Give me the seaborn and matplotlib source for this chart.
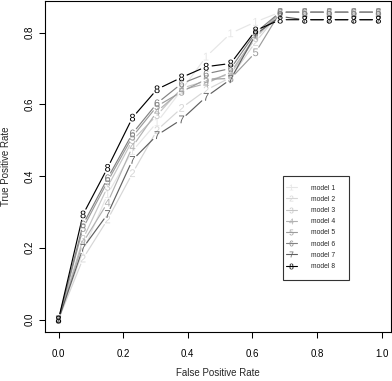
import numpy as np
import pandas as pd
import matplotlib
matplotlib.use("Agg")
import matplotlib.pyplot as plt
from matplotlib.lines import Line2D
from matplotlib.patches import Rectangle
import seaborn as sns

# false positive rate grid (shared by all models)
fpr = [0.0, 0.076, 0.152, 0.229, 0.305, 0.381, 0.457, 0.533, 0.61, 0.686, 0.762, 0.838, 0.914, 0.99]

# true positive rate for each model
tpr_m1 = [0.0, 0.19, 0.35, 0.47, 0.55, 0.64, 0.733, 0.798, 0.83, 0.857, 0.857, 0.857, 0.857, 0.857]
tpr_m2 = [0.0, 0.17, 0.279, 0.408, 0.528, 0.59, 0.64, 0.675, 0.774, 0.857, 0.857, 0.857, 0.857, 0.857]
tpr_m3 = [0.0, 0.225, 0.37, 0.50, 0.57, 0.645, 0.665, 0.685, 0.785, 0.857, 0.857, 0.857, 0.857, 0.857]
tpr_m4 = [0.0, 0.215, 0.326, 0.482, 0.58, 0.64, 0.658, 0.69, 0.79, 0.857, 0.857, 0.857, 0.857, 0.857]
tpr_m5 = [0.0, 0.255, 0.385, 0.51, 0.595, 0.635, 0.67, 0.672, 0.745, 0.857, 0.857, 0.857, 0.857, 0.857]
tpr_m6 = [0.0, 0.265, 0.394, 0.519, 0.603, 0.658, 0.685, 0.70, 0.80, 0.857, 0.857, 0.857, 0.857, 0.857]
tpr_m7 = [0.0, 0.20, 0.294, 0.445, 0.514, 0.558, 0.621, 0.67, 0.795, 0.845, 0.836, 0.836, 0.836, 0.836]
tpr_m8 = [0.0, 0.293, 0.423, 0.563, 0.642, 0.675, 0.705, 0.714, 0.806, 0.836, 0.836, 0.836, 0.836, 0.836]

models = ["model 1", "model 2", "model 3", "model 4", "model 5", "model 6", "model 7", "model 8"]
tprs = [tpr_m1, tpr_m2, tpr_m3, tpr_m4, tpr_m5, tpr_m6, tpr_m7, tpr_m8]
grays = ["#e6e6e6", "#d6d6d6", "#c5c5c5", "#b2b2b2", "#9c9c9c", "#828282", "#5f5f5f", "#000000"]

rows = []
for name, vals in zip(models, tprs):
    for x, y in zip(fpr, vals):
        rows.append([x, y, name])
df = pd.DataFrame(rows, columns=["fpr", "tpr", "model"])

sns.set_style("ticks")
plt.rcParams["font.family"] = ["Liberation Sans", "DejaVu Sans"]
plt.rcParams["mathtext.fontset"] = "custom"
plt.rcParams["mathtext.rm"] = "Liberation Sans"
plt.rcParams["mathtext.it"] = "Liberation Sans:italic"
plt.rcParams["axes.edgecolor"] = "black"
plt.rcParams["axes.linewidth"] = 0.8

fig = plt.figure(figsize=(3.92, 3.81), dpi=100)
ax = fig.add_axes([45 / 392, (381 - 331.7) / 381, 346 / 392, 331.0 / 381])
ax.set_xlim(-0.0418, 1.029)
ax.set_ylim(-0.034, 0.889)

# lines with small gaps around each point (like R type="b")
gap = 6.0
trans = ax.transData
for name, col in zip(models, grays):
    sub = df[df["model"] == name]
    pts = trans.transform(sub[["fpr", "tpr"]].values)
    segs = []
    for p0, p1 in zip(pts[:-1], pts[1:]):
        d = p1 - p0
        L = np.hypot(d[0], d[1])
        if L <= 2 * gap:
            continue
        u = d / L
        segs += [p0 + u * gap, p1 - u * gap, [np.nan, np.nan]]
    segs = trans.inverted().transform(np.array(segs))
    ax.plot(segs[:, 0], segs[:, 1], color=col, lw=0.85, zorder=2)

# digit labels as point markers
markers = {m: "$" + str(i + 1) + "$" for i, m in enumerate(models)}
sns.scatterplot(data=df, x="fpr", y="tpr", hue="model", style="model",
                markers=markers, palette=dict(zip(models, grays)), s=31,
                linewidth=0, edgecolor="none", legend=False, ax=ax, zorder=3)

ax.set_xticks([0.0, 0.2, 0.4, 0.6, 0.8, 1.0])
ax.set_yticks([0.0, 0.2, 0.4, 0.6, 0.8])
ax.tick_params(axis="both", direction="out", length=4.5, width=0.75,
               color="black", labelsize=7, labelcolor="black")
ax.tick_params(axis="x", pad=8)
ax.tick_params(axis="y", pad=2.7, labelrotation=90)
for t in ax.get_yticklabels():
    t.set_va("center")

ax.set_xlabel("False Positive Rate", fontsize=7)
ax.set_ylabel("True Positive Rate", fontsize=7)
ax.xaxis.set_label_coords(0.5, -(373.3 - 331.7) / 331.0)
ax.xaxis.label.set_va("center")
ax.yaxis.set_label_coords((6.5 - 45) / 346, 0.5)
ax.yaxis.label.set_va("center")

for sp in ax.spines.values():
    sp.set_visible(True)
    sp.set_color("black")
    sp.set_linewidth(0.8)

# legend
handles = [Line2D([], [], color=c, lw=0.8, marker="$" + str(i + 1) + "$", markersize=4.2,
                  markeredgewidth=0)
           for i, c in enumerate(grays)]
leg = ax.legend(handles, models, loc="upper left", bbox_to_anchor=(286 / 392, 1 - 184.5 / 381),
                bbox_transform=fig.transFigure, frameon=False, fontsize=4.9,
                borderpad=0, borderaxespad=0, handlelength=1.6, handletextpad=2.1,
                labelspacing=0.62)
fig.patches.append(Rectangle((283 / 392, 1 - 280 / 381), 66 / 392, 104 / 381,
                             transform=fig.transFigure, fill=False,
                             edgecolor="#333333", lw=0.8, figure=fig))

fig.savefig("out.png", dpi=100)
